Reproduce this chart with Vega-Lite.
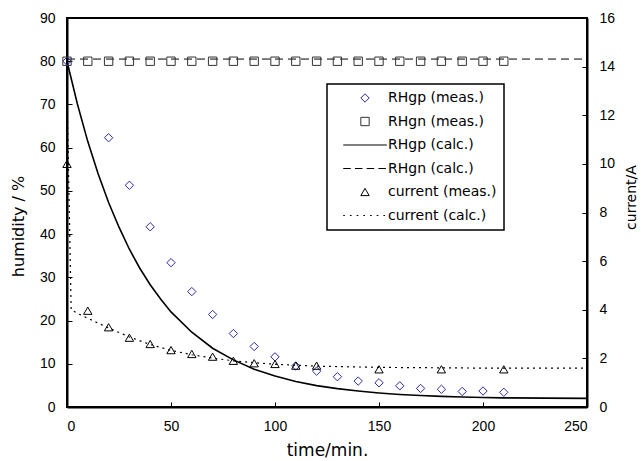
{
  "$schema": "https://vega.github.io/schema/vega-lite/v6.json",
  "width": 520,
  "height": 389,
  "autosize": {"type": "none"},
  "padding": {"left": 67, "top": 18, "right": 54, "bottom": 54},
  "background": "white",
  "config": {
    "view": {"stroke": "black", "strokeWidth": 2},
    "axis": {
      "domainColor": "black", "domainWidth": 2, "tickColor": "black", "tickWidth": 1,
      "tickSize": -5, "grid": false, "labelFont": "Liberation Sans", "labelFontSize": 14,
      "labelColor": "black", "titleFont": "DejaVu Sans", "titleFontWeight": "normal",
      "titleColor": "black", "labelPadding": 17
    },
    "legend": {
      "orient": "none", "legendX": 260, "legendY": 66, "padding": 7,
      "symbolOffset": 24, "labelOffset": 16, "strokeColor": "black", "strokeWidth": 1.5,
      "fillColor": "white", "labelFont": "DejaVu Sans", "labelFontSize": 14, "labelColor": "black",
      "symbolSize": 70, "symbolStrokeWidth": 1, "rowPadding": 9.5, "labelLimit": 300
    }
  },
  "data": {"values": [
    {"t": 0, "v": 80, "s": "RHgp (meas.)"},
    {"t": 20, "v": 62.3, "s": "RHgp (meas.)"},
    {"t": 30, "v": 51.3, "s": "RHgp (meas.)"},
    {"t": 40, "v": 41.7, "s": "RHgp (meas.)"},
    {"t": 50, "v": 33.4, "s": "RHgp (meas.)"},
    {"t": 60, "v": 26.7, "s": "RHgp (meas.)"},
    {"t": 70, "v": 21.4, "s": "RHgp (meas.)"},
    {"t": 80, "v": 17.0, "s": "RHgp (meas.)"},
    {"t": 90, "v": 14.0, "s": "RHgp (meas.)"},
    {"t": 100, "v": 11.6, "s": "RHgp (meas.)"},
    {"t": 110, "v": 9.5, "s": "RHgp (meas.)"},
    {"t": 120, "v": 8.3, "s": "RHgp (meas.)"},
    {"t": 130, "v": 7.0, "s": "RHgp (meas.)"},
    {"t": 140, "v": 6.0, "s": "RHgp (meas.)"},
    {"t": 150, "v": 5.6, "s": "RHgp (meas.)"},
    {"t": 160, "v": 4.9, "s": "RHgp (meas.)"},
    {"t": 170, "v": 4.3, "s": "RHgp (meas.)"},
    {"t": 180, "v": 4.1, "s": "RHgp (meas.)"},
    {"t": 190, "v": 3.6, "s": "RHgp (meas.)"},
    {"t": 200, "v": 3.7, "s": "RHgp (meas.)"},
    {"t": 210, "v": 3.4, "s": "RHgp (meas.)"},
    {"t": 0, "v": 80, "s": "RHgn (meas.)"},
    {"t": 10, "v": 80, "s": "RHgn (meas.)"},
    {"t": 20, "v": 80, "s": "RHgn (meas.)"},
    {"t": 30, "v": 80, "s": "RHgn (meas.)"},
    {"t": 40, "v": 80, "s": "RHgn (meas.)"},
    {"t": 50, "v": 80, "s": "RHgn (meas.)"},
    {"t": 60, "v": 80, "s": "RHgn (meas.)"},
    {"t": 70, "v": 80, "s": "RHgn (meas.)"},
    {"t": 80, "v": 80, "s": "RHgn (meas.)"},
    {"t": 90, "v": 80, "s": "RHgn (meas.)"},
    {"t": 100, "v": 80, "s": "RHgn (meas.)"},
    {"t": 110, "v": 80, "s": "RHgn (meas.)"},
    {"t": 120, "v": 80, "s": "RHgn (meas.)"},
    {"t": 130, "v": 80, "s": "RHgn (meas.)"},
    {"t": 140, "v": 80, "s": "RHgn (meas.)"},
    {"t": 150, "v": 80, "s": "RHgn (meas.)"},
    {"t": 160, "v": 80, "s": "RHgn (meas.)"},
    {"t": 170, "v": 80, "s": "RHgn (meas.)"},
    {"t": 180, "v": 80, "s": "RHgn (meas.)"},
    {"t": 190, "v": 80, "s": "RHgn (meas.)"},
    {"t": 200, "v": 80, "s": "RHgn (meas.)"},
    {"t": 210, "v": 80, "s": "RHgn (meas.)"},
    {"t": 0, "v": 80.5, "s": "RHgn (calc.)"},
    {"t": 250, "v": 80.5, "s": "RHgn (calc.)"},
    {"t": 0, "v": 80, "s": "RHgp (calc.)"},
    {"t": 5, "v": 70.1, "s": "RHgp (calc.)"},
    {"t": 10, "v": 61.4, "s": "RHgp (calc.)"},
    {"t": 15, "v": 53.9, "s": "RHgp (calc.)"},
    {"t": 20, "v": 47.3, "s": "RHgp (calc.)"},
    {"t": 25, "v": 41.6, "s": "RHgp (calc.)"},
    {"t": 30, "v": 36.5, "s": "RHgp (calc.)"},
    {"t": 35, "v": 32.1, "s": "RHgp (calc.)"},
    {"t": 40, "v": 28.3, "s": "RHgp (calc.)"},
    {"t": 45, "v": 25.0, "s": "RHgp (calc.)"},
    {"t": 50, "v": 22.0, "s": "RHgp (calc.)"},
    {"t": 60, "v": 17.3, "s": "RHgp (calc.)"},
    {"t": 70, "v": 13.6, "s": "RHgp (calc.)"},
    {"t": 80, "v": 10.9, "s": "RHgp (calc.)"},
    {"t": 90, "v": 8.75, "s": "RHgp (calc.)"},
    {"t": 100, "v": 7.15, "s": "RHgp (calc.)"},
    {"t": 110, "v": 5.9, "s": "RHgp (calc.)"},
    {"t": 120, "v": 4.95, "s": "RHgp (calc.)"},
    {"t": 130, "v": 4.25, "s": "RHgp (calc.)"},
    {"t": 140, "v": 3.7, "s": "RHgp (calc.)"},
    {"t": 150, "v": 3.25, "s": "RHgp (calc.)"},
    {"t": 160, "v": 2.9, "s": "RHgp (calc.)"},
    {"t": 170, "v": 2.65, "s": "RHgp (calc.)"},
    {"t": 180, "v": 2.45, "s": "RHgp (calc.)"},
    {"t": 190, "v": 2.3, "s": "RHgp (calc.)"},
    {"t": 200, "v": 2.2, "s": "RHgp (calc.)"},
    {"t": 210, "v": 2.12, "s": "RHgp (calc.)"},
    {"t": 230, "v": 2.05, "s": "RHgp (calc.)"},
    {"t": 250, "v": 2.0, "s": "RHgp (calc.)"},
    {"t": 0, "v": 10.0, "s": "current (meas.)"},
    {"t": 10, "v": 3.96, "s": "current (meas.)"},
    {"t": 20, "v": 3.28, "s": "current (meas.)"},
    {"t": 30, "v": 2.85, "s": "current (meas.)"},
    {"t": 40, "v": 2.59, "s": "current (meas.)"},
    {"t": 50, "v": 2.34, "s": "current (meas.)"},
    {"t": 60, "v": 2.18, "s": "current (meas.)"},
    {"t": 70, "v": 2.07, "s": "current (meas.)"},
    {"t": 80, "v": 1.9, "s": "current (meas.)"},
    {"t": 90, "v": 1.8, "s": "current (meas.)"},
    {"t": 100, "v": 1.77, "s": "current (meas.)"},
    {"t": 110, "v": 1.7, "s": "current (meas.)"},
    {"t": 120, "v": 1.7, "s": "current (meas.)"},
    {"t": 150, "v": 1.55, "s": "current (meas.)"},
    {"t": 180, "v": 1.55, "s": "current (meas.)"},
    {"t": 210, "v": 1.55, "s": "current (meas.)"},
    {"t": 0, "v": 13.0, "s": "current (calc.)"},
    {"t": 2, "v": 4.0, "s": "current (calc.)"},
    {"t": 5, "v": 3.85, "s": "current (calc.)"},
    {"t": 10, "v": 3.65, "s": "current (calc.)"},
    {"t": 20, "v": 3.25, "s": "current (calc.)"},
    {"t": 30, "v": 2.88, "s": "current (calc.)"},
    {"t": 40, "v": 2.57, "s": "current (calc.)"},
    {"t": 50, "v": 2.33, "s": "current (calc.)"},
    {"t": 60, "v": 2.15, "s": "current (calc.)"},
    {"t": 70, "v": 2.01, "s": "current (calc.)"},
    {"t": 80, "v": 1.9, "s": "current (calc.)"},
    {"t": 90, "v": 1.82, "s": "current (calc.)"},
    {"t": 100, "v": 1.76, "s": "current (calc.)"},
    {"t": 120, "v": 1.68, "s": "current (calc.)"},
    {"t": 150, "v": 1.63, "s": "current (calc.)"},
    {"t": 200, "v": 1.6, "s": "current (calc.)"},
    {"t": 250, "v": 1.6, "s": "current (calc.)"}
  ]},
  "encoding": {
    "x": {"field": "t", "type": "quantitative",
      "scale": {"domain": [0, 250], "nice": false},
      "axis": {"values": [0, 50, 100, 150, 200, 250], "title": "time/min.", "titleFontSize": 17,
        "titleX": 260, "titleY": 35, "titleBaseline": "top", "titleAlign": "center"}}
  },
  "layer": [
    {
      "encoding": {
        "y": {"field": "v", "type": "quantitative",
          "scale": {"domain": [0, 90], "nice": false},
          "axis": {"orient": "left", "values": [0, 10, 20, 30, 40, 50, 60, 70, 80, 90],
            "title": "humidity / %", "titleFontSize": 16, "titleAngle": 270,
            "titleX": -41, "titleY": 208, "titleBaseline": "bottom", "titleAlign": "center"}}
      },
      "layer": [
        {"transform": [{"filter": "datum.s === 'RHgp (calc.)'"}],
         "mark": {"type": "line", "color": "black", "strokeWidth": 1.6}},
        {"transform": [{"filter": "datum.s === 'RHgn (calc.)'"}],
         "mark": {"type": "line", "color": "black", "strokeWidth": 1, "strokeDash": [8, 5]}},
        {"transform": [{"filter": "datum.s === 'RHgp (meas.)' || datum.s === 'RHgn (meas.)'"}],
         "mark": {"type": "point", "filled": false, "size": 70, "strokeWidth": 1, "opacity": 1},
         "encoding": {
           "shape": {"field": "s", "type": "nominal",
             "scale": {"domain": ["RHgp (meas.)", "RHgn (meas.)", "RHgp (calc.)", "RHgn (calc.)", "current (meas.)", "current (calc.)"],
               "range": ["diamond", "square", "M-5.2,0H5.2", "M-5.2,0H-3.4M-2.4,0H-0.6M0.4,0H2.2M3.2,0H5.0", "triangle-up", "M-5.2,0H-4.8M-3.6,0H-3.2M-2,0H-1.6M-0.4,0H0M1.2,0H1.6M2.8,0H3.2M4.4,0H4.8"]},
             "legend": {"title": null}},
           "color": {"field": "s", "type": "nominal",
             "scale": {"domain": ["RHgp (meas.)", "RHgn (meas.)", "RHgp (calc.)", "RHgn (calc.)", "current (meas.)", "current (calc.)"],
               "range": ["#2b2ba8", "#333333", "black", "black", "black", "black"]},
             "legend": {"title": null}}
         }}
      ]
    },
    {
      "encoding": {
        "y": {"field": "v", "type": "quantitative",
          "scale": {"domain": [0, 16], "nice": false},
          "axis": {"orient": "right", "values": [0, 2, 4, 6, 8, 10, 12, 14, 16],
            "title": "current/A", "titleFontSize": 14, "titleAngle": 270,
            "titleX": 51, "titleY": 179, "titleBaseline": "bottom", "titleAlign": "center"}}
      },
      "layer": [
        {"transform": [{"filter": "datum.s === 'current (calc.)'"}],
         "mark": {"type": "line", "color": "black", "strokeWidth": 1.2, "strokeDash": [2, 4]}},
        {"transform": [{"filter": "datum.s === 'current (meas.)'"}],
         "mark": {"type": "point", "filled": false, "size": 70, "strokeWidth": 1, "opacity": 1},
         "encoding": {
           "shape": {"field": "s", "type": "nominal", "legend": {"title": null}},
           "color": {"field": "s", "type": "nominal", "legend": {"title": null}}
         }}
      ]
    }
  ],
  "resolve": {"scale": {"y": "independent"}}
}
